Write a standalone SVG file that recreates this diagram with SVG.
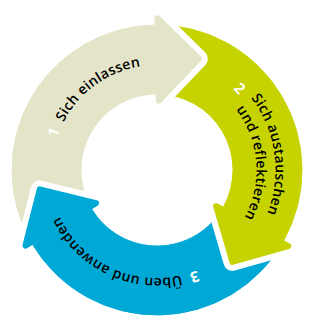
<svg xmlns="http://www.w3.org/2000/svg" xmlns:xlink="http://www.w3.org/1999/xlink" width="312" height="326" viewBox="0 0 312 326">
<style>
.lbl{font-family:"Open Sans","Noto Sans","DejaVu Sans",sans-serif;font-size:14px;font-weight:600;letter-spacing:0.3px;fill:#000}
.num{font-family:"Open Sans","Noto Sans","DejaVu Sans",sans-serif;font-size:15px;font-weight:700;fill:#fff}
.beige{fill:#e4e4c8;stroke:#e4e4c8}
.green{fill:#c7d300;stroke:#c7d300}
.blue{fill:#00a8d6;stroke:#00a8d6}
.head{stroke-width:6;stroke-linejoin:round}
.cut{fill:#000;stroke:#000;stroke-width:18;stroke-linejoin:round}
</style>
<defs>
<polygon id="hY" points="157.35,18.27 198.84,58.76 158.79,100.66"/>
<polygon id="hG" points="288.23,246.17 232.42,261.86 216.16,206.22"/>
<polygon id="hB" points="25.42,245.56 39.73,189.38 96.05,203.12"/>
<mask id="mY" maskUnits="userSpaceOnUse" x="0" y="0" width="312" height="326"><rect width="312" height="326" fill="#fff"/><use href="#hB" class="cut"/></mask>
<mask id="mG" maskUnits="userSpaceOnUse" x="0" y="0" width="312" height="326"><rect width="312" height="326" fill="#fff"/><use href="#hY" class="cut"/></mask>
<mask id="mB" maskUnits="userSpaceOnUse" x="0" y="0" width="312" height="326"><rect width="312" height="326" fill="#fff"/><use href="#hG" class="cut"/></mask>
<path id="p1" d="M 52 170 A 105 105 0 0 1 209.5 79.07"/>
<path id="p2n" d="M 212.5 73.87 A 111 111 0 0 1 212.5 266.13"/>
<path id="p2a" d="M 216.25 67.38 A 118.5 118.5 0 0 1 216.25 272.62"/>
<path id="p2b" d="M 206.75 83.83 A 99.5 99.5 0 0 1 206.75 256.17"/>
<path id="p3" d="M 211 263.53 A 108 108 0 0 1 49 170"/>
</defs>
<g id="node-1">
<g mask="url(#mY)">
<path class="beige" stroke="none" d="M 32.71 244.68 A 145 145 0 0 1 154.47 25.02 L 155.67 94.01 A 76 76 0 0 0 91.86 209.14 Z"/>
<use href="#hY" class="beige head"/>
</g>
<text class="num"><textPath href="#p1" startOffset="36.7" text-anchor="middle">1</textPath></text>
<text class="lbl"><textPath href="#p1" startOffset="99" text-anchor="middle">Sich einlassen</textPath></text>
</g>
<g id="node-2">
<g mask="url(#mG)">
<path class="green" stroke="none" d="M 154.47 25.02 A 145 145 0 0 1 283.82 240.30 L 223.47 206.85 A 76 76 0 0 0 155.67 94.01 Z"/>
<use href="#hG" class="green head"/>
</g>
<text class="num"><textPath href="#p2n" startOffset="29.8" text-anchor="middle">2</textPath></text>
<text class="lbl"><textPath href="#p2a" startOffset="46.5">Sich austauschen</textPath></text>
<text class="lbl"><textPath href="#p2b" startOffset="39">und reflektieren</textPath></text>
</g>
<g id="node-3">
<g mask="url(#mB)">
<path class="blue" stroke="none" d="M 283.82 240.30 A 145 145 0 0 1 32.71 244.68 L 91.86 209.14 A 76 76 0 0 0 223.47 206.85 Z"/>
<use href="#hB" class="blue head"/>
</g>
<text class="num"><textPath href="#p3" startOffset="20" text-anchor="middle">3</textPath></text>
<text class="lbl"><textPath href="#p3" startOffset="32">Üben und anwenden</textPath></text>
</g>
</svg>
